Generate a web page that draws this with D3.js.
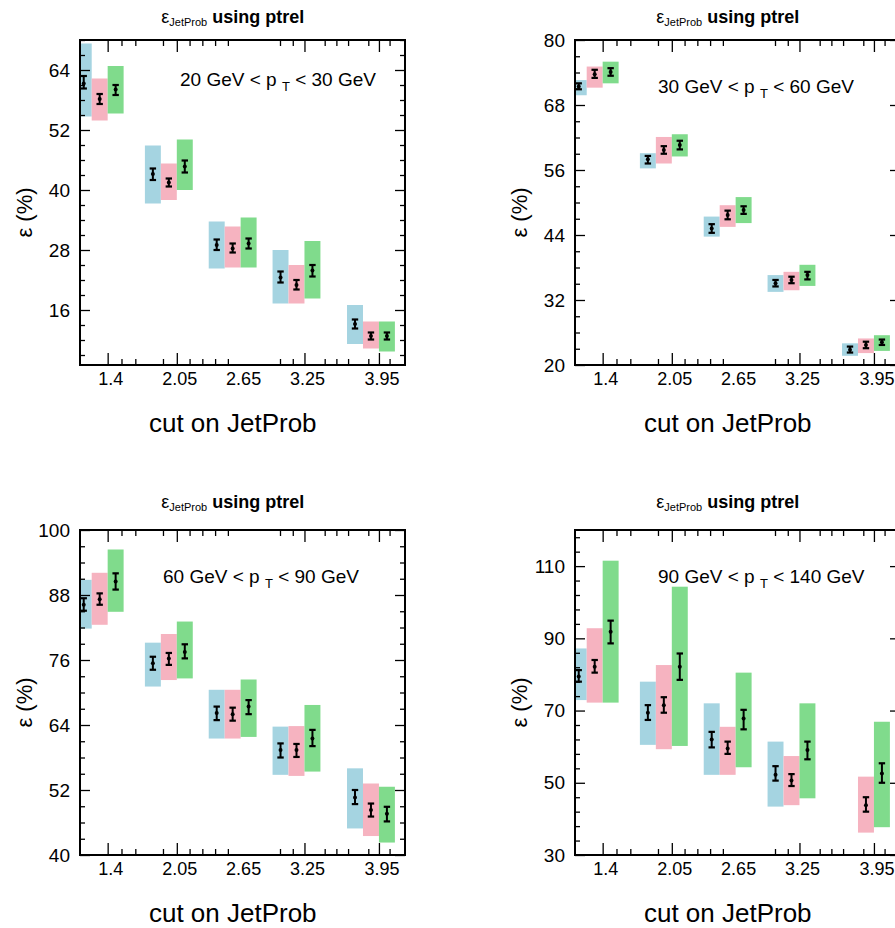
<!DOCTYPE html>
<html><head><meta charset="utf-8">
<script src="https://cdn.jsdelivr.net/npm/d3@7"></script>
<style>
body{margin:0;background:#fff}
svg{display:block}
text{font-family:"Liberation Sans",Arial,Helvetica,sans-serif;fill:#000}
</style>
</head><body>
<svg id="chart" width="895" height="928"></svg>
<script>
// ---------------- data ----------------
const cuts = [1.4, 2.05, 2.65, 3.25, 3.95];
const xTickLabels = ["1.4", "2.05", "2.65", "3.25", "3.95"];
const xMajorTicks = [1.4, 2.05, 3.25, 3.95];
const xMinorTicks = [1.53, 1.66, 1.92, 2.17, 2.29, 2.41, 2.53, 3.02, 3.14, 3.44, 3.55, 3.66, 3.85, 4.05];
const seriesNames = ["blue", "pink", "green"];
const seriesColors = ["#a5d4e1", "#f6b3c0", "#80db8c"];
const seriesOffsets = [-0.225, -0.075, 0.075];
const boxWidth = 0.15;

const ptRanges = [["20", "30"], ["30", "60"], ["60", "90"], ["90", "140"]];
const yDomains = [[5, 70], [20, 80], [40, 100], [30, 120]];
const yMajorTicks = [[16, 28, 40, 52, 64], [20, 32, 44, 56, 68, 80], [40, 52, 64, 76, 88, 100], [30, 50, 70, 90, 110]];
const yMinorStep = [3, 3, 3, 4];

// each entry: [value, statLow, statHigh, systLow, systHigh]
const pt20_30_blue  = [[61.3,60.3,62.8,54.7,69.3],[43.2,42.0,44.3,37.3,48.9],[29.0,28.0,30.1,24.3,33.7],[22.5,21.5,23.7,17.3,28.0],[13.2,12.3,14.1,9.2,17.0]];
const pt20_30_pink  = [[58.2,57.2,59.2,53.9,62.3],[41.5,40.7,42.3,38.0,45.3],[28.3,27.5,29.3,24.5,32.7],[21.0,20.1,22.0,17.3,25.0],[10.8,10.1,11.5,8.3,13.7]];
const pt20_30_green = [[60.1,59.0,61.0,55.3,64.8],[44.7,43.5,45.9,40.0,50.1],[29.3,28.3,30.3,24.5,34.5],[23.9,22.7,25.0,18.3,29.8],[10.8,10.1,11.5,7.7,13.7]];

const pt30_60_blue  = [[71.4,70.9,72.0,69.8,72.6],[58.0,57.2,58.6,56.3,59.1],[45.2,44.4,46.0,43.7,47.4],[35.1,34.5,35.7,33.5,36.6],[22.8,22.3,23.4,21.7,24.0]];
const pt30_60_pink  = [[73.7,73.0,74.5,71.2,75.1],[59.7,59.0,60.4,57.2,62.1],[47.7,46.9,48.5,45.5,49.5],[35.7,35.1,36.3,33.8,37.2],[23.7,23.1,24.3,22.2,24.9]];
const pt30_60_green = [[74.1,73.4,74.8,72.0,76.0],[60.6,59.8,61.4,58.5,62.6],[48.6,47.9,49.3,46.2,51.0],[36.6,35.8,37.2,34.6,38.5],[24.2,23.7,24.7,22.6,25.5]];

const pt60_90_blue  = [[86.2,85.1,87.4,81.8,90.8],[75.4,74.2,76.6,71.1,79.2],[66.2,64.9,67.4,61.5,70.5],[59.4,58.0,60.6,54.8,63.7],[50.6,49.4,52.0,44.9,56.0]];
const pt60_90_pink  = [[87.2,86.2,88.3,82.5,92.1],[76.3,75.1,77.3,72.3,80.8],[66.0,64.8,67.2,61.5,70.5],[59.4,58.1,60.5,54.6,63.8],[48.3,47.1,49.5,43.5,53.2]];
const pt60_90_green = [[90.5,89.0,92.0,84.9,96.4],[77.5,76.3,78.9,72.6,83.1],[67.4,66.0,68.6,61.8,72.4],[61.5,60.1,63.1,55.4,67.7],[47.6,46.2,48.9,42.3,52.6]];

const pt90_140_blue  = [[79.4,78.0,81.2,72.9,87.2],[69.4,67.4,71.5,60.5,78.0],[62.0,59.8,64.1,52.2,72.0],[52.2,50.6,54.6,43.4,61.4],null];
const pt90_140_pink  = [[82.1,80.5,84.0,72.2,92.8],[71.5,69.4,73.7,59.3,82.6],[59.5,58.0,61.4,52.2,65.5],[50.6,49.1,52.4,43.8,57.4],[43.8,42.0,46.0,36.2,51.7]];
const pt90_140_green = [[91.8,88.6,94.9,72.2,111.5],[82.1,78.5,85.8,60.2,104.3],[67.8,64.8,70.2,54.3,80.5],[59.1,56.5,61.4,45.7,72.0],[52.6,50.0,55.4,37.7,66.9]];

const panelSeries = [
  [pt20_30_blue, pt20_30_pink, pt20_30_green],
  [pt30_60_blue, pt30_60_pink, pt30_60_green],
  [pt60_90_blue, pt60_90_pink, pt60_90_green],
  [pt90_140_blue, pt90_140_pink, pt90_140_green]
];

// ---------------- layout ----------------
const xDomain = [1.14, 4.195];
const frames = [
  {x: 80,  y: 40,  w: 325, h: 325, lx: 2.08, ly: 60.8},
  {x: 575, y: 40,  w: 325, h: 325, lx: 1.92, ly: 70.2},
  {x: 80,  y: 530, w: 325, h: 325, lx: 1.92, ly: 90.2},
  {x: 575, y: 530, w: 325, h: 325, lx: 1.92, ly: 105.3}
];

const svg = d3.select("#chart");
svg.append("rect").attr("width", 895).attr("height", 928).attr("fill", "#fff");

frames.forEach((f, pi) => {
  const g = svg.append("g").attr("transform", `translate(${f.x},${f.y})`);
  const x = d3.scaleLinear().domain(xDomain).range([0, f.w]);
  const y = d3.scaleLinear().domain(yDomains[pi]).range([f.h, 0]);

  const clipId = "clip" + pi;
  g.append("clipPath").attr("id", clipId).append("rect").attr("width", f.w).attr("height", f.h);
  const plot = g.append("g").attr("clip-path", `url(#${clipId})`);

  // systematic boxes
  panelSeries[pi].forEach((ser, si) => {
    plot.selectAll(null).data(ser.map((d, i) => ({d, c: cuts[i]})).filter(o => o.d))
      .enter().append("rect")
      .attr("x", o => x(o.c + seriesOffsets[si] - boxWidth / 2))
      .attr("width", o => x(o.c + seriesOffsets[si] + boxWidth / 2) - x(o.c + seriesOffsets[si] - boxWidth / 2))
      .attr("y", o => y(o.d[4]))
      .attr("height", o => y(o.d[3]) - y(o.d[4]))
      .attr("fill", seriesColors[si]);
  });
  // stat error bars + markers
  panelSeries[pi].forEach((ser, si) => {
    const pts = ser.map((d, i) => ({d, c: cuts[i]})).filter(o => o.d);
    const eg = plot.selectAll(null).data(pts).enter().append("g")
      .attr("transform", o => `translate(${x(o.c + seriesOffsets[si])},0)`);
    eg.append("line").attr("x1", 0).attr("x2", 0)
      .attr("y1", o => y(o.d[1])).attr("y2", o => y(o.d[2]))
      .attr("stroke", "#000").attr("stroke-width", 2);
    eg.append("line").attr("x1", -3.2).attr("x2", 3.2)
      .attr("y1", o => y(o.d[1])).attr("y2", o => y(o.d[1]))
      .attr("stroke", "#000").attr("stroke-width", 2.2);
    eg.append("line").attr("x1", -3.2).attr("x2", 3.2)
      .attr("y1", o => y(o.d[2])).attr("y2", o => y(o.d[2]))
      .attr("stroke", "#000").attr("stroke-width", 2.2);
    eg.append("circle").attr("cx", 0).attr("cy", o => y(o.d[0])).attr("r", 2).attr("fill", "#000");
  });

  // y ticks
  const m0 = yMajorTicks[pi][0], st = yMinorStep[pi], dom = yDomains[pi];
  const minorY = d3.range(Math.ceil((dom[0] - m0) / st), Math.floor((dom[1] - m0) / st) + 1)
    .map(k => m0 + k * st).filter(v => !yMajorTicks[pi].includes(v));

  const styleAxis = sel => {
    sel.select(".domain").remove();
    sel.selectAll(".tick line").attr("stroke", "#000").attr("stroke-width", 1.3);
  };
  g.append("g").call(d3.axisLeft(y).tickValues(yMajorTicks[pi]).tickSize(-10).tickPadding(10).tickFormat(d3.format("d")))
    .call(styleAxis).selectAll("text").attr("font-size", 19).attr("font-family", "Liberation Sans, Arial, sans-serif");
  g.append("g").call(d3.axisLeft(y).tickValues(minorY).tickSize(-5).tickFormat(""))
    .call(styleAxis);
  g.append("g").attr("transform", `translate(${f.w},0)`)
    .call(d3.axisRight(y).tickValues(yMajorTicks[pi]).tickSize(-10).tickFormat("")).call(styleAxis);
  g.append("g").attr("transform", `translate(${f.w},0)`)
    .call(d3.axisRight(y).tickValues(minorY).tickSize(-5).tickFormat("")).call(styleAxis);

  // x ticks
  g.append("g").attr("transform", `translate(0,${f.h})`)
    .call(d3.axisBottom(x).tickValues(xMajorTicks).tickSize(-12).tickFormat("")).call(styleAxis);
  g.append("g").attr("transform", `translate(0,${f.h})`)
    .call(d3.axisBottom(x).tickValues(xMinorTicks).tickSize(-6).tickFormat("")).call(styleAxis);
  g.append("g")
    .call(d3.axisTop(x).tickValues(xMajorTicks).tickSize(-12).tickFormat("")).call(styleAxis);
  g.append("g")
    .call(d3.axisTop(x).tickValues(xMinorTicks).tickSize(-6).tickFormat("")).call(styleAxis);

  // x tick labels
  g.selectAll(null).data(cuts).enter().append("text")
    .attr("x", (c) => x(c) + 3).attr("y", f.h + 20)
    .attr("text-anchor", "middle").attr("font-size", 18)
    .text((c, i) => xTickLabels[i]);

  // frame
  g.append("rect").attr("width", f.w).attr("height", f.h)
    .attr("fill", "none").attr("stroke", "#000").attr("stroke-width", 2);

  // axis titles
  g.append("text").attr("x", f.w * 0.47).attr("y", f.h + 67)
    .attr("text-anchor", "middle").attr("font-size", 26).text("cut on JetProb");
  g.append("text").attr("transform", `translate(${-48},${f.h / 2 + 10}) rotate(-90)`)
    .attr("text-anchor", "middle").attr("font-size", 22).text("ε (%)");

  // title
  const t = g.append("text").attr("x", f.w * 0.47).attr("y", pi < 2 ? -17 : -22)
    .attr("text-anchor", "middle").attr("font-size", 18).attr("font-weight", "bold");
  t.append("tspan").attr("font-weight", "normal").text("ε");
  t.append("tspan").attr("font-size", 11).attr("font-weight", "normal").attr("dy", 3).text("JetProb");
  t.append("tspan").attr("dy", -3).text(" using ptrel");

  // pT range label
  const a = g.append("text").attr("x", x(f.lx)).attr("y", y(f.ly)).attr("font-size", 19);
  a.append("tspan").text(`${ptRanges[pi][0]} GeV < p `);
  a.append("tspan").attr("font-size", 13).attr("dy", 5).text("T");
  a.append("tspan").attr("dy", -5).text(` < ${ptRanges[pi][1]} GeV`);
});
</script>
</body></html>
